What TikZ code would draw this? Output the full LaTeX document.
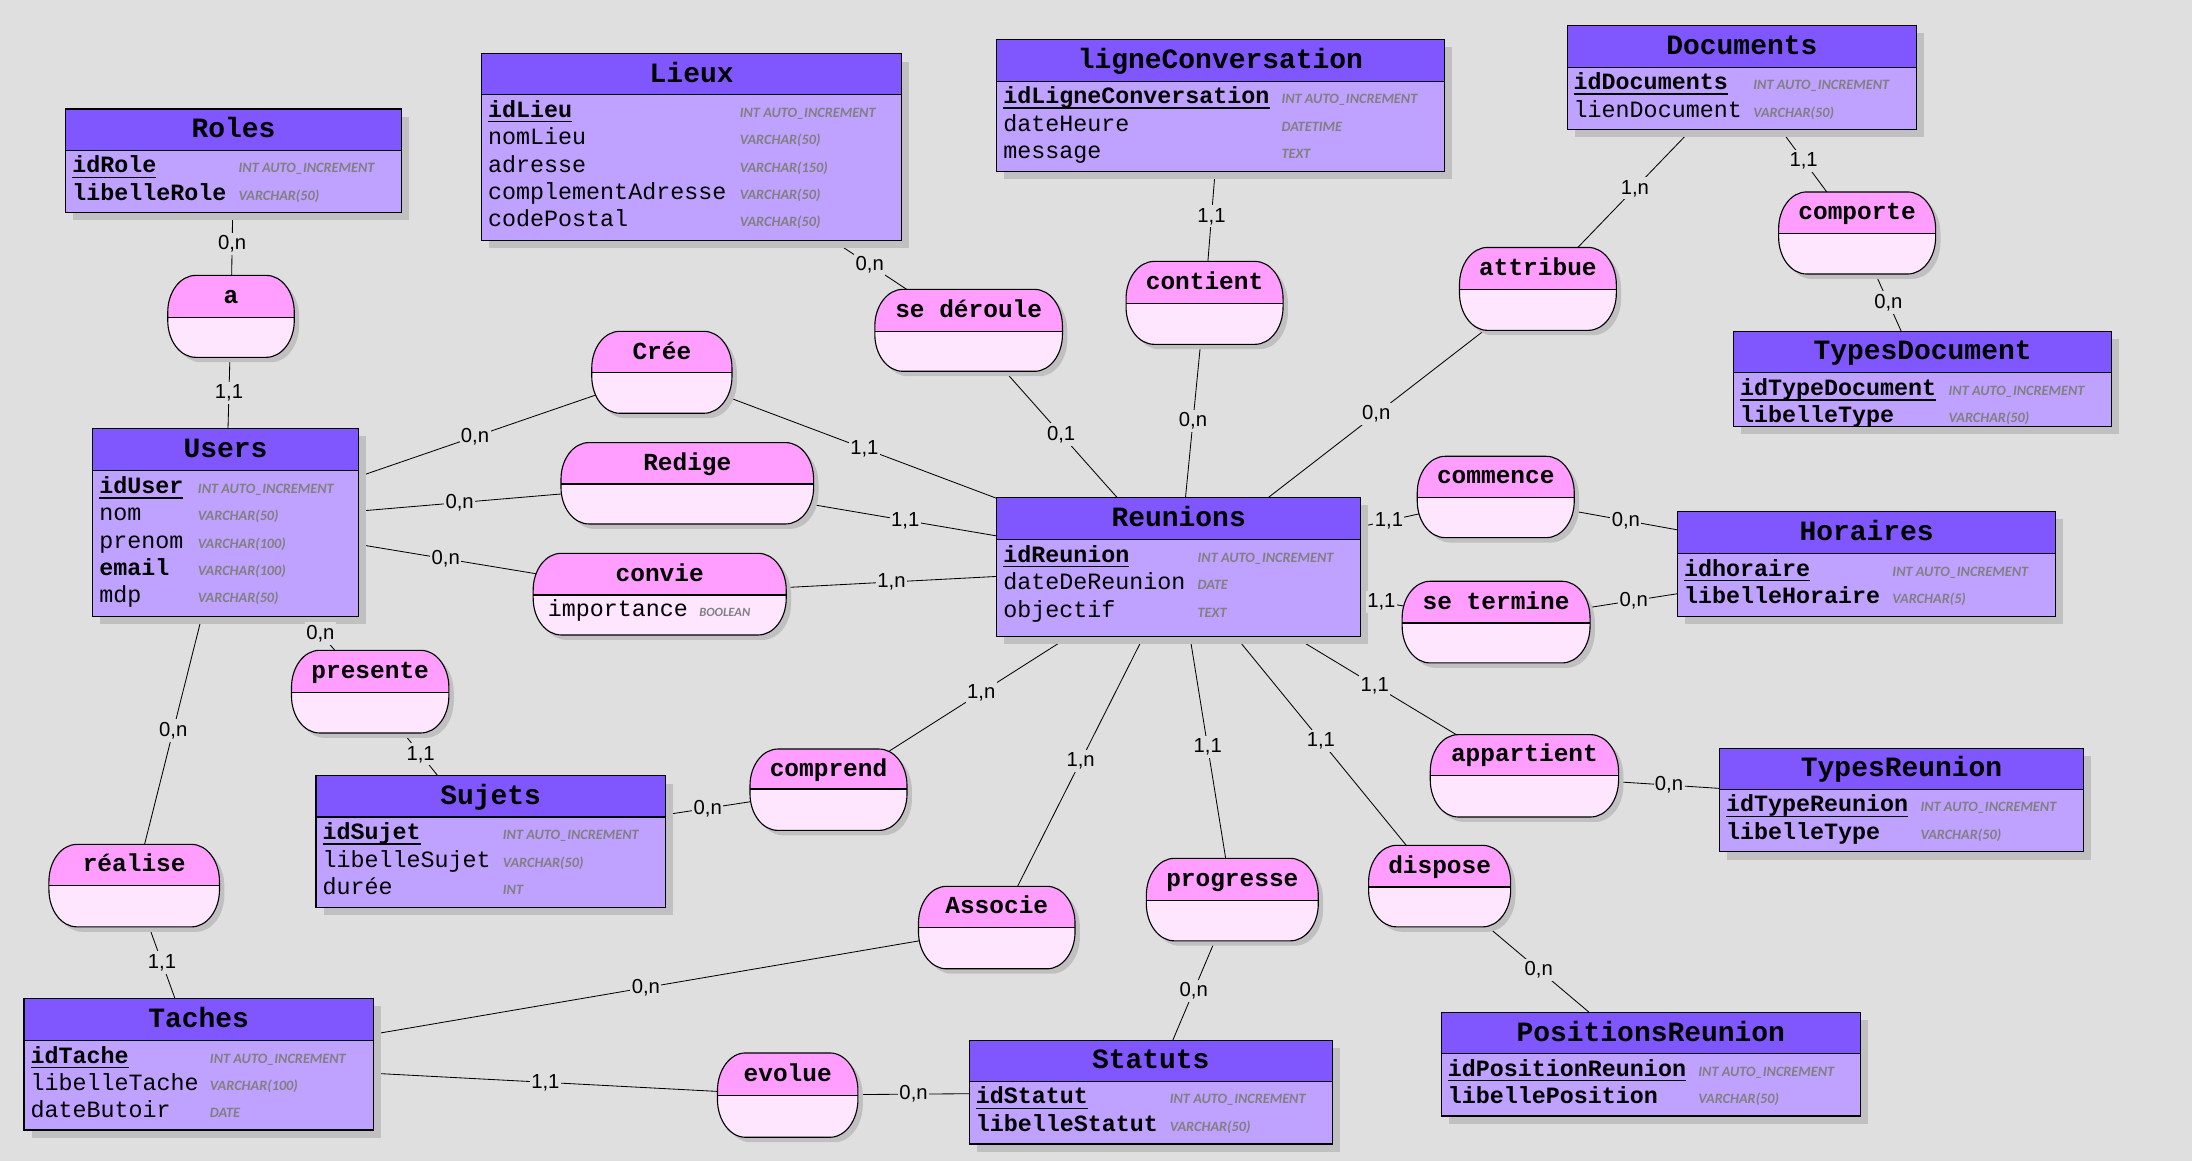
\documentclass[tikz,border=0pt]{standalone}
\usepackage{fontspec}
\newfontfamily\monof{Liberation Mono}
\newfontfamily\typef{Carlito}
\newfontfamily\cardf{Liberation Sans}
\pgfdeclarelayer{bg}
\pgfsetlayers{bg,main}
\definecolor{bgc}{RGB}{223,223,223}
\definecolor{enthead}{RGB}{128,86,255}
\definecolor{entbody}{RGB}{191,161,255}
\definecolor{relhead}{RGB}{255,158,255}
\definecolor{relbody}{RGB}{255,230,255}
\definecolor{shadowc}{RGB}{192,192,192}
\definecolor{typegray}{RGB}{128,128,128}
\tikzset{
  titlefont/.style={font=\monof\bfseries\fontsize{20}{22}\selectfont, inner sep=0pt, anchor=base},
  attrn/.style={font=\monof\fontsize{16.7}{18}\selectfont, inner sep=0pt, anchor=base west},
  attrt/.style={font=\typef\bfseries\itshape\fontsize{10.2}{12}\selectfont, text=typegray, inner sep=0pt, anchor=base west},
  reltitle/.style={font=\monof\bfseries\fontsize{17.5}{19}\selectfont, inner sep=0pt, anchor=base},
  card/.style={font=\cardf\fontsize{14.5}{16}\selectfont, fill=bgc, inner xsep=1pt, inner ysep=2pt},
  link/.style={line width=0.6pt, draw=black},
  outl/.style={line width=0.8pt, draw=black},
  hook/.style={inner sep=0pt, draw=none}
}
\newcommand\kattr[1]{\setbox0\hbox{\bfseries #1}\rlap{\vrule height -2.6pt depth 3.7pt width \wd0}\box0}
% entity: name x1 y1 x2 y2 sep typecol title
\newcommand\entity[8]{%
  \def\eName{#1}\def\eX{#2}\def\eSep{#6}\def\eT{#7}%
  \fill[shadowc] (#2+5.5,#3+5.5) rectangle (#4+5.5,#5+5.5);
  \fill[entbody] (#2,#3) rectangle (#4,#5);
  \fill[enthead] (#2,#3) rectangle (#4,#6);
  \draw[outl] (#2,#6) -- (#4,#6);
  \draw[outl] (#2,#3) rectangle (#4,#5);
  \pgfmathsetmacro\eW{#4-#2}\pgfmathsetmacro\eH{#5-#3}%
  \node[hook, minimum width=\eW pt, minimum height=\eH pt] (#1) at ({(#2+#4)/2},{(#3+#5)/2}) {};
  \node[titlefont] (#1-t) at ({(#2+#4)/2},{(#3+#6)/2+5.7}) {#8};
}
\newcommand\attr[3]{%
  \pgfmathsetmacro\ay{\eSep+16.2+19.6*(#1-1)}%
  \node[attrn] (\eName-n#1) at (\eX+4.5,\ay) {#2};
  \node[attrt] (\eName-t#1) at (\eT,\ay) {#3};
}
\def\K{0.5523}
\def\rRx{20}
\def\stad{(\rXa+\rRx,\rYa) -- (\rXb-\rRx,\rYa) .. controls (\rXb-\rRx+\K*\rRx,\rYa) and (\rXb,\rYa+\rRy-\K*\rRy) .. (\rXb,\rYa+\rRy) -- (\rXb,\rYb-\rRy) .. controls (\rXb,\rYb-\rRy+\K*\rRy) and (\rXb-\rRx+\K*\rRx,\rYb) .. (\rXb-\rRx,\rYb) -- (\rXa+\rRx,\rYb) .. controls (\rXa+\rRx-\K*\rRx,\rYb) and (\rXa,\rYb-\rRy+\K*\rRy) .. (\rXa,\rYb-\rRy) -- (\rXa,\rYa+\rRy) .. controls (\rXa,\rYa+\rRy-\K*\rRy) and (\rXa+\rRx-\K*\rRx,\rYa) .. (\rXa+\rRx,\rYa) -- cycle}
% relation: name x1 y1 x2 y2 sep title
\newcommand\relation[7]{%
  \def\rXa{#2}\def\rYa{#3}\def\rXb{#4}\def\rYb{#5}%
  \pgfmathsetmacro\rRy{(#5-#3)/2-3}%
  \fill[shadowc, shift={(3.5,3.5)}] \stad;
  \begin{scope}
    \clip \stad;
    \fill[relhead] (#2,#3) rectangle (#4,#6);
    \fill[relbody] (#2,#6) rectangle (#4,#5);
    \draw[outl] (#2,#6) -- (#4,#6);
  \end{scope}
  \draw[outl] \stad;
  \pgfmathsetmacro\rW{#4-#2}\pgfmathsetmacro\rH{#5-#3}%
  \node[hook, minimum width=\rW pt, minimum height=\rH pt] (#1) at ({(#2+#4)/2},{(#3+#5)/2}) {};
  \node[reltitle] (#1-t) at ({(#2+#4)/2},{(#3+#6)/2+5}) {#7};
}
\newcommand\lnk[3]{%
  \begin{pgfonlayer}{bg}\draw[link] (#1.center) -- (#2.center);\end{pgfonlayer}
  \path (#1) -- node[card] (#1-#2) {#3} (#2);
}
\begin{document}
\begin{tikzpicture}[x=1pt, y=-1pt]
\useasboundingbox (0,0) rectangle (1568,830.5);
\begin{pgfonlayer}{bg}
\fill[bgc] (0,0) rectangle (1568,830.5);
\end{pgfonlayer}

% ---------------- entities ----------------
\entity{Roles}{47}{78}{287}{152}{107.5}{170.5}{Roles}
\attr{1}{\kattr{idRole}}{INT AUTO\_INCREMENT}
\attr{2}{\bfseries libelleRole}{VARCHAR(50)}

\entity{Lieux}{344.5}{38.5}{645}{172}{67.7}{529}{Lieux}
\attr{1}{\kattr{idLieu}}{INT AUTO\_INCREMENT}
\attr{2}{nomLieu}{VARCHAR(50)}
\attr{3}{adresse}{VARCHAR(150)}
\attr{4}{complementAdresse}{VARCHAR(50)}
\attr{5}{codePostal}{VARCHAR(50)}

\entity{ligneConversation}{713}{28}{1033}{122.5}{58}{916.5}{ligneConversation}
\attr{1}{\kattr{idLigneConversation}}{INT AUTO\_INCREMENT}
\attr{2}{dateHeure}{DATETIME}
\attr{3}{message}{TEXT}

\entity{Documents}{1121}{18}{1371}{92.5}{48}{1254}{Documents}
\attr{1}{\kattr{idDocuments}}{INT AUTO\_INCREMENT}
\attr{2}{lienDocument}{VARCHAR(50)}

\entity{TypesDocument}{1240}{237}{1510.5}{305}{266.6}{1393.7}{TypesDocument}
\attr{1}{\kattr{idTypeDocument}}{INT AUTO\_INCREMENT}
\attr{2}{\bfseries libelleType}{VARCHAR(50)}

\entity{Users}{66.3}{306.4}{256.3}{441}{336.7}{141.4}{Users}
\attr{1}{\kattr{idUser}}{INT AUTO\_INCREMENT}
\attr{2}{nom}{VARCHAR(50)}
\attr{3}{prenom}{VARCHAR(100)}
\attr{4}{\bfseries email}{VARCHAR(100)}
\attr{5}{mdp}{VARCHAR(50)}

\entity{Reunions}{713}{356}{973.3}{455}{386}{856.5}{Reunions}
\attr{1}{\kattr{idReunion}}{INT AUTO\_INCREMENT}
\attr{2}{dateDeReunion}{DATE}
\attr{3}{objectif}{TEXT}

\entity{Horaires}{1200}{366}{1470.5}{441}{396}{1353.5}{Horaires}
\attr{1}{\kattr{idhoraire}}{INT AUTO\_INCREMENT}
\attr{2}{\bfseries libelleHoraire}{VARCHAR(5)}

\entity{TypesReunion}{1230}{535.3}{1490.5}{609.4}{564.6}{1373.6}{TypesReunion}
\attr{1}{\kattr{idTypeReunion}}{INT AUTO\_INCREMENT}
\attr{2}{\bfseries libelleType}{VARCHAR(50)}

\entity{PositionsReunion}{1031}{724.4}{1330.7}{798.3}{753.7}{1214.7}{PositionsReunion}
\attr{1}{\kattr{idPositionReunion}}{INT AUTO\_INCREMENT}
\attr{2}{\bfseries libellePosition}{VARCHAR(50)}

\entity{Sujets}{226}{555}{476}{649}{584.4}{359.5}{Sujets}
\attr{1}{\kattr{idSujet}}{INT AUTO\_INCREMENT}
\attr{2}{libelleSujet}{VARCHAR(50)}
\attr{3}{durée}{INT}

\entity{Taches}{17.2}{714}{267}{808.3}{744.2}{150}{Taches}
\attr{1}{\kattr{idTache}}{INT AUTO\_INCREMENT}
\attr{2}{libelleTache}{VARCHAR(100)}
\attr{3}{dateButoir}{DATE}

\entity{Statuts}{693.3}{744.4}{953}{818.3}{773.5}{836.6}{Statuts}
\attr{1}{\kattr{idStatut}}{INT AUTO\_INCREMENT}
\attr{2}{\bfseries libelleStatut}{VARCHAR(50)}

% ---------------- relations ----------------
\relation{a}{120}{197}{210.5}{255.6}{227}{a}
\relation{Cree}{423.3}{237}{523.6}{295.6}{266.6}{Crée}
\relation{Redige}{401.3}{316.6}{582}{374.8}{346.2}{Redige}
\relation{convie}{381.4}{395.8}{562.4}{454.2}{425.6}{convie}
\node[attrn] (convie-n1) at (391.7,441) {importance};
\node[attrt, font=\typef\bfseries\itshape\fontsize{9}{11}\selectfont] (convie-t1) at (500,441) {BOOLEAN};
\relation{presente}{208.5}{465.2}{321.1}{524.3}{495.2}{presente}
\relation{comprend}{536.5}{535.8}{648.8}{594}{564.4}{comprend}
\relation{realise}{35}{604}{157}{663}{633.5}{réalise}
\relation{Associe}{657}{634}{769}{693}{663.5}{Associe}
\relation{progresse}{820}{614}{943}{673}{644}{progresse}
\relation{dispose}{979}{604.7}{1080.6}{663}{634.5}{dispose}
\relation{appartient}{1023.1}{525.5}{1157.8}{584.4}{554.6}{appartient}
\relation{evolue}{513.2}{753.2}{613.7}{813.5}{783.5}{evolue}
\relation{commence}{1013.8}{326.4}{1126.1}{384.6}{356}{commence}
\relation{setermine}{1003}{415.8}{1137.4}{474.2}{445.6}{se termine}
\relation{sederoule}{625.8}{207}{760}{265.6}{237}{se déroule}
\relation{contient}{805.5}{187}{917.8}{246.3}{217}{contient}
\relation{attribue}{1044}{177}{1156.2}{236.3}{207}{attribue}
\relation{comporte}{1272.3}{137.3}{1384.6}{196}{166.9}{comporte}

% ---------------- links ----------------
\lnk{Roles}{a}{0,n}
\lnk{a}{Users}{1,1}
\lnk{Users}{Cree}{0,n}
\lnk{Cree}{Reunions}{1,1}
\lnk{Users}{Redige}{0,n}
\lnk{Redige}{Reunions}{1,1}
\lnk{Users}{convie}{0,n}
\lnk{convie}{Reunions}{1,n}
\lnk{Users}{presente}{0,n}
\lnk{presente}{Sujets}{1,1}
\lnk{Sujets}{comprend}{0,n}
\lnk{comprend}{Reunions}{1,n}
\lnk{Users}{realise}{0,n}
\lnk{realise}{Taches}{1,1}
\lnk{Taches}{Associe}{0,n}
\lnk{Associe}{Reunions}{1,n}
\lnk{Taches}{evolue}{1,1}
\lnk{evolue}{Statuts}{0,n}
\lnk{Statuts}{progresse}{0,n}
\lnk{progresse}{Reunions}{1,1}
\lnk{Reunions}{dispose}{1,1}
\lnk{dispose}{PositionsReunion}{0,n}
\lnk{Reunions}{appartient}{1,1}
\lnk{appartient}{TypesReunion}{0,n}
\lnk{Reunions}{setermine}{1,1}
\lnk{setermine}{Horaires}{0,n}
\lnk{Reunions}{commence}{1,1}
\lnk{commence}{Horaires}{0,n}
\lnk{Reunions}{attribue}{0,n}
\lnk{attribue}{Documents}{1,n}
\lnk{Documents}{comporte}{1,1}
\lnk{comporte}{TypesDocument}{0,n}
\lnk{Reunions}{contient}{0,n}
\lnk{contient}{ligneConversation}{1,1}
\lnk{Reunions}{sederoule}{0,1}
\lnk{sederoule}{Lieux}{0,n}
\end{tikzpicture}
\end{document}
